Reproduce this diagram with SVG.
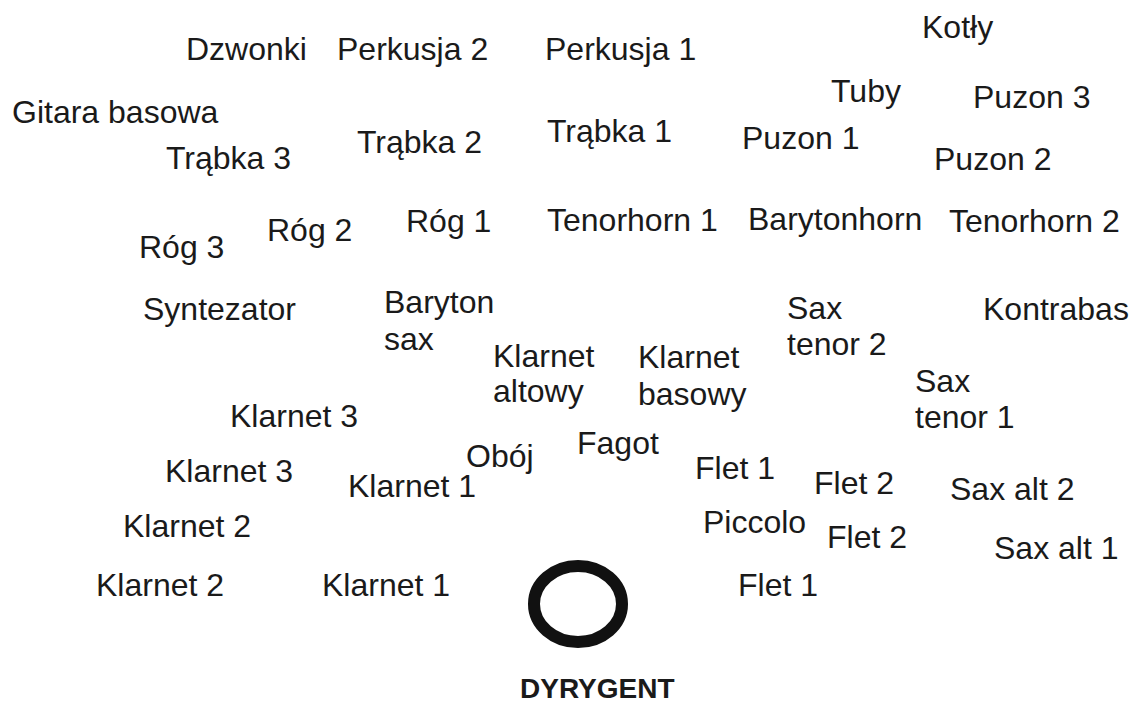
<svg xmlns="http://www.w3.org/2000/svg" width="1134" height="702" viewBox="0 0 1134 702">
<style>
text{font-family:"Liberation Sans",Arial,sans-serif;font-size:32px;fill:#1a1a1a}
.b{font-weight:bold;font-size:28px}
</style>
<rect width="1134" height="702" fill="#fff"/>
<g id="labels">
<text x="186" y="60">Dzwonki</text>
<text x="337" y="60">Perkusja 2</text>
<text x="545" y="60">Perkusja 1</text>
<text x="922" y="38">Kotły</text>
<text x="831" y="102">Tuby</text>
<text x="973" y="108">Puzon 3</text>
<text x="12" y="123">Gitara basowa</text>
<text x="547" y="142">Trąbka 1</text>
<text x="742" y="149">Puzon 1</text>
<text x="357" y="153">Trąbka 2</text>
<text x="166" y="169">Trąbka 3</text>
<text x="934" y="170">Puzon 2</text>
<text x="547" y="231">Tenorhorn 1</text>
<text x="748" y="230">Barytonhorn</text>
<text x="949" y="232">Tenorhorn 2</text>
<text x="406" y="232">Róg 1</text>
<text x="267" y="241">Róg 2</text>
<text x="139" y="258">Róg 3</text>
<text x="143" y="320">Syntezator</text>
<text x="384" y="313">Baryton</text>
<text x="384" y="350">sax</text>
<text x="787" y="319">Sax</text>
<text x="787" y="355">tenor 2</text>
<text x="983" y="320">Kontrabas</text>
<text x="493" y="367">Klarnet</text>
<text x="493" y="402">altowy</text>
<text x="638" y="368">Klarnet</text>
<text x="638" y="405">basowy</text>
<text x="915" y="392">Sax</text>
<text x="915" y="428">tenor 1</text>
<text x="230" y="427">Klarnet 3</text>
<text x="466" y="467">Obój</text>
<text x="577" y="454">Fagot</text>
<text x="695" y="479">Flet 1</text>
<text x="165" y="482">Klarnet 3</text>
<text x="814" y="494">Flet 2</text>
<text x="950" y="500">Sax alt 2</text>
<text x="348" y="497">Klarnet 1</text>
<text x="123" y="537">Klarnet 2</text>
<text x="703" y="533">Piccolo</text>
<text x="827" y="548">Flet 2</text>
<text x="994" y="559">Sax alt 1</text>
<text x="96" y="596">Klarnet 2</text>
<text x="322" y="596">Klarnet 1</text>
<text x="738" y="596">Flet 1</text>
</g>
<g id="conductor">
<ellipse cx="578" cy="604" rx="44" ry="38" fill="none" stroke="#111" stroke-width="12"/>
<text class="b" x="520" y="698">DYRYGENT</text>
</g>
</svg>
